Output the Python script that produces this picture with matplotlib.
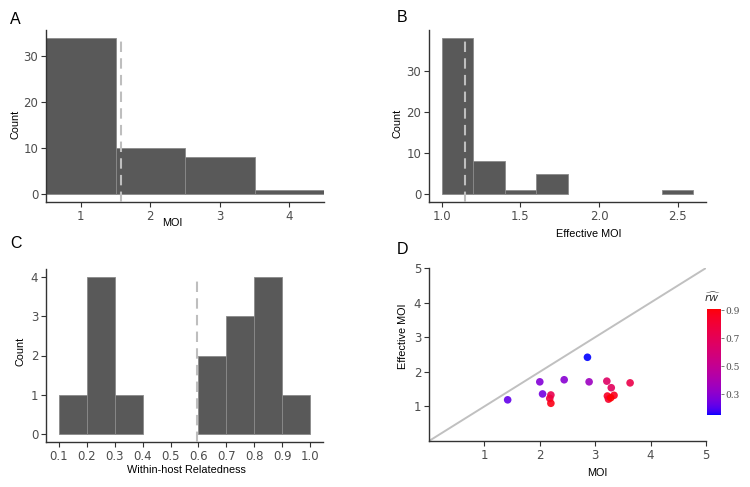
import numpy as np
import matplotlib
matplotlib.use("Agg")
import matplotlib.pyplot as plt
from matplotlib.colors import ListedColormap, Normalize

# ---------------- data ----------------
moi_edges = [0.5, 1.5, 2.5, 3.5, 4.5]
moi_counts = [34, 10, 8, 1]
moi_mean = 1.58

emoi_edges = [1.0, 1.2, 1.4, 1.6, 1.8, 2.0, 2.2, 2.4, 2.6]
emoi_counts = [38, 8, 1, 5, 0, 0, 0, 1]
emoi_mean = 1.15

rel_edges = [0.1, 0.2, 0.3, 0.4, 0.5, 0.6, 0.7, 0.8, 0.9, 1.0]
rel_counts = [1, 4, 1, 0, 0, 2, 3, 4, 1]
rel_threshold = 0.594

scatter_moi = [1.42, 2.00, 2.05, 2.20, 2.18, 2.20, 2.44, 2.86, 2.89, 3.21, 3.29, 3.63, 3.22, 3.34, 3.24, 3.28]
scatter_emoi = [1.19, 1.71, 1.36, 1.33, 1.23, 1.09, 1.77, 2.42, 1.71, 1.73, 1.54, 1.68, 1.30, 1.32, 1.21, 1.25]
scatter_rw = [0.22, 0.28, 0.25, 0.72, 0.77, 0.88, 0.29, 0.15, 0.35, 0.65, 0.68, 0.74, 0.85, 0.86, 0.82, 0.91]
rw_ticks = [0.3, 0.5, 0.7, 0.9]

# ---------------- colormap (Lab interpolation blue -> red, like ggplot) ----------------
def srgb_to_lab(c):
    c = np.asarray(c, float)
    lin = np.where(c <= 0.04045, c / 12.92, ((c + 0.055) / 1.055) ** 2.4)
    M = np.array([[0.4124, 0.3576, 0.1805], [0.2126, 0.7152, 0.0722], [0.0193, 0.1192, 0.9505]])
    xyz = M @ lin
    wp = np.array([0.95047, 1.0, 1.08883])
    t = xyz / wp
    f = np.where(t > (6 / 29) ** 3, np.cbrt(t), t / (3 * (6 / 29) ** 2) + 4 / 29)
    return np.array([116 * f[1] - 16, 500 * (f[0] - f[1]), 200 * (f[1] - f[2])])

def lab_to_srgb(lab):
    L, a, b = lab
    fy = (L + 16) / 116
    fx = fy + a / 500
    fz = fy - b / 200
    f = np.array([fx, fy, fz])
    t = np.where(f > 6 / 29, f ** 3, 3 * (6 / 29) ** 2 * (f - 4 / 29))
    wp = np.array([0.95047, 1.0, 1.08883])
    xyz = t * wp
    Minv = np.array([[3.2406, -1.5372, -0.4986], [-0.9689, 1.8758, 0.0415], [0.0557, -0.2040, 1.0570]])
    lin = np.clip(Minv @ xyz, 0, 1)
    c = np.where(lin <= 0.0031308, 12.92 * lin, 1.055 * lin ** (1 / 2.4) - 0.055)
    return np.clip(c, 0, 1)

lab_lo = srgb_to_lab([0, 0, 1])
lab_hi = srgb_to_lab([1, 0, 0])
cols = [lab_to_srgb(lab_lo + (lab_hi - lab_lo) * t) for t in np.linspace(0, 1, 256)]
cmap = ListedColormap(cols)
norm = Normalize(vmin=min(scatter_rw), vmax=max(scatter_rw))

# ---------------- figure ----------------
W, H = 750, 487
fig = plt.figure(figsize=(7.5, 4.87), dpi=100)

def rect(l, t, r, b):
    return [l / W, 1 - b / H, (r - l) / W, (b - t) / H]

TICK_C = "#4D4D4D"
AX_C = "#333333"
BAR_C = "#595959"
DASH_C = "#BEBEBE"
TITLE_FONT = "Liberation Sans"

def style(ax):
    for s in ["top", "right"]:
        ax.spines[s].set_visible(False)
    for s in ["left", "bottom"]:
        ax.spines[s].set_color(AX_C)
        ax.spines[s].set_linewidth(1.0)
    ax.tick_params(axis="both", colors=AX_C, labelcolor=TICK_C, length=3.5, width=0.8,
                   labelsize=8.5, pad=2)
    for lab in ax.get_xticklabels() + ax.get_yticklabels():
        lab.set_fontfamily("DejaVu Sans")

def labels(ax, xl, xpos, yl, ypos):
    ax.set_xlabel(xl, fontsize=7.8, family=TITLE_FONT, color="black", va="center", ha="center")
    ax.set_ylabel(yl, fontsize=7.8, family=TITLE_FONT, color="black", va="center", ha="center")
    ax.xaxis.set_label_coords(xpos[0] / W, 1 - xpos[1] / H, transform=fig.transFigure)
    ax.yaxis.set_label_coords(ypos[0] / W, 1 - ypos[1] / H, transform=fig.transFigure)

def hist(ax, edges, counts):
    edges = np.asarray(edges)
    counts = np.asarray(counts)
    keep = counts > 0
    ax.bar(edges[:-1][keep], counts[keep], width=np.diff(edges)[keep], align="edge",
           color=BAR_C, edgecolor="#8a8a8a", linewidth=0.6, zorder=2)

# Panel A
axA = fig.add_axes(rect(46, 30, 324, 202))
hist(axA, moi_edges, moi_counts)
axA.set_xlim(0.5, 4.5)
axA.set_ylim(-1.7, 35.7)
axA.plot([moi_mean, moi_mean], [-1.7, max(moi_counts)], color=DASH_C, lw=1.5,
         dashes=(5, 3), zorder=3)
axA.set_xticks([1, 2, 3, 4])
axA.set_yticks([0, 10, 20, 30])
style(axA)
labels(axA, "MOI", (172.7, 223), "Count", (15.7, 124))

# Panel B
axB = fig.add_axes(rect(429, 30, 706, 202))
hist(axB, emoi_edges, emoi_counts)
axB.set_xlim(0.92, 2.68)
axB.set_ylim(-1.9, 39.9)
axB.plot([emoi_mean, emoi_mean], [-1.9, max(emoi_counts)], color=DASH_C, lw=1.5,
         dashes=(5, 3), zorder=3)
axB.set_xticks([1.0, 1.5, 2.0, 2.5])
axB.set_xticklabels(["1.0", "1.5", "2.0", "2.5"])
axB.set_yticks([0, 10, 20, 30])
style(axB)
labels(axB, "Effective MOI", (589, 234), "Count", (397.3, 123))

# Panel C
axC = fig.add_axes(rect(46, 269, 323, 442))
hist(axC, rel_edges, rel_counts)
axC.set_xlim(0.055, 1.045)
axC.set_ylim(-0.2, 4.2)
axC.plot([rel_threshold, rel_threshold], [-0.2, max(rel_counts)], color=DASH_C, lw=1.5,
         dashes=(5, 3), zorder=3)
xt = [round(0.1 * i, 1) for i in range(1, 11)]
axC.set_xticks(xt)
axC.set_xticklabels([f"{v:.1f}" for v in xt])
axC.set_yticks([0, 1, 2, 3, 4])
style(axC)
labels(axC, "Within-host Relatedness", (186.3, 470), "Count", (20.7, 351))

# Panel D
axD = fig.add_axes(rect(429, 268, 706, 441))
axD.plot([0, 5], [0, 5], color="#C0C0C0", lw=1.4, zorder=1)
axD.scatter(scatter_moi, scatter_emoi, c=scatter_rw, cmap=cmap, norm=norm, s=30,
            edgecolors="none", alpha=0.9, zorder=3)
axD.set_xlim(0, 5)
axD.set_ylim(0, 5)
axD.set_xticks([1, 2, 3, 4, 5])
axD.set_yticks([1, 2, 3, 4, 5])
style(axD)
labels(axD, "MOI", (597, 473), "Effective MOI", (403, 336))

# Colorbar
axCB = fig.add_axes(rect(707, 309, 721, 415))
grad = np.linspace(norm.vmin, norm.vmax, 256).reshape(-1, 1)
axCB.imshow(grad, aspect="auto", cmap=cmap, norm=norm, origin="lower",
            extent=[0, 1, norm.vmin, norm.vmax])
axCB.set_xticks([])
axCB.yaxis.tick_right()
axCB.set_yticks(rw_ticks)
axCB.set_yticklabels([f"{v:.1f}" for v in rw_ticks])
axCB.tick_params(axis="y", length=2, width=0.6, colors="#666666", labelcolor=TICK_C,
                 labelsize=6.5, pad=1)
for lab in axCB.get_yticklabels():
    lab.set_fontfamily("DejaVu Serif")
for s in axCB.spines.values():
    s.set_visible(False)
fig.text(713 / W, 1 - 297 / H, r"$\widehat{rw}$", fontsize=8, ha="center", va="center",
         color="#333333")

# Panel letters
for letter, (px, py) in {"A": (10, 20), "B": (397, 17), "C": (10, 244), "D": (397, 249)}.items():
    fig.text(px / W, 1 - py / H, letter, fontsize=11.5, family=TITLE_FONT, ha="left",
             va="center", color="black")

fig.savefig("out.png", dpi=100)
